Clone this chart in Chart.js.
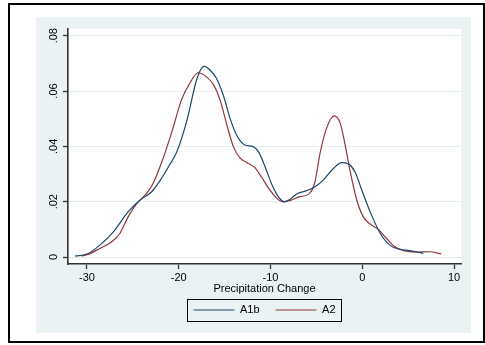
<!DOCTYPE html>
<html>
<head>
<meta charset="utf-8">
<script src="https://cdn.jsdelivr.net/npm/chart.js@4.4.0/dist/chart.umd.min.js"></script>
<style>
html,body{margin:0;padding:0;background:#fff;}
canvas{display:block;}
</style>
</head>
<body>
<canvas id="c" width="485" height="345"></canvas>
<script>
// ---- data ----
const a1bX = [-31.3,-30,-28.6,-27.1,-25.5,-24.2,-22.95,-22.0,-21.1,-20.2,-19.1,-18.0,-17.25,-16.6,-15.9,-15.1,-14.4,-13.7,-12.8,-11.9,-11.3,-10.6,-9.9,-9.15,-8.5,-7.9,-7.15,-6.05,-5.15,-4.25,-3.15,-2.25,-1.5,-0.8,-0.05,0.85,1.95,3.0,4.1,5.2,6.65];
const a1bY = [0.0003,0.0011,0.0043,0.0092,0.0164,0.0206,0.0236,0.0278,0.0327,0.0381,0.0495,0.0646,0.0689,0.0676,0.0646,0.058,0.050,0.0441,0.0405,0.0399,0.038,0.0327,0.0266,0.0218,0.0200,0.0208,0.0228,0.024,0.0254,0.0278,0.032,0.0341,0.0336,0.0308,0.0242,0.0164,0.0086,0.0043,0.0028,0.0023,0.0013];
const a2X = [-30.6,-30,-28.6,-27.3,-26.4,-25.5,-24.6,-23.5,-22.8,-21.9,-20.8,-19.7,-18.8,-17.9,-17.0,-16.2,-15.5,-14.8,-14.05,-13.3,-12.6,-11.7,-11.0,-10.2,-9.3,-8.6,-7.9,-6.8,-5.8,-5.15,-4.6,-3.9,-3.05,-2.4,-1.9,-1.35,-0.6,0.1,0.85,1.75,2.65,3.55,4.5,5.95,7.4,8.6];
const a2Y = [0.0004,0.0008,0.0031,0.0055,0.0086,0.0146,0.0192,0.023,0.0266,0.0339,0.0447,0.0568,0.0628,0.0666,0.0652,0.0622,0.0568,0.0483,0.0399,0.0357,0.0342,0.0323,0.029,0.0248,0.0212,0.0199,0.0204,0.0218,0.0228,0.0272,0.0375,0.0465,0.051,0.0483,0.0411,0.0315,0.0206,0.0146,0.0119,0.01,0.0067,0.0037,0.0023,0.0018,0.0019,0.0011];
const seriesNames = ['A1b','A2'];
const xTicks = [-30,-20,-10,0,10];
const xTickLabels = ['-30','-20','-10','0','10'];
const yTicks = [0,0.02,0.04,0.06,0.08];
const yTickLabels = ['0','.02','.04','.06','.08'];
const xTitle = 'Precipitation Change';

const font = {family:'"Liberation Sans", Arial, sans-serif', size:11};
const toPts = (xs, ys) => xs.map((x,i)=>({x:x, y:ys[i]}));

const frame = {
  id:'frame',
  beforeDraw(chart){
    const {ctx, chartArea:a} = chart;
    ctx.save();
    ctx.fillStyle='#fff'; ctx.fillRect(0,0,chart.width,chart.height);
    ctx.fillStyle='#eaf2f3'; ctx.fillRect(36,17,435,316);
    ctx.fillStyle='#fff'; ctx.fillRect(a.left,a.top,a.right-a.left,a.bottom-a.top);
    ctx.strokeStyle='#000'; ctx.lineWidth=2; ctx.strokeRect(9,4,475,338);
    ctx.restore();
  },
  afterDraw(chart){
    const lg = chart.legend;
    if(!lg || !lg.legendHitBoxes || !lg.legendHitBoxes.length) return;
    const hb = lg.legendHitBoxes;
    let l = Infinity, r = -Infinity, t = Infinity, b = -Infinity;
    hb.forEach(h=>{ l=Math.min(l,h.left); r=Math.max(r,h.left+h.width); t=Math.min(t,h.top); b=Math.max(b,h.top+h.height); });
    const ctx = chart.ctx;
    ctx.save();
    ctx.strokeStyle='#000'; ctx.lineWidth=1;
    ctx.strokeRect(Math.round(l-6)+0.5, Math.round(t-6)+0.5, Math.round(r-l+12), Math.round(b-t+11));
    ctx.restore();
  }
};

new Chart(document.getElementById('c'), {
  type:'line',
  data:{
    datasets:[
      {label:seriesNames[0], data:toPts(a1bX,a1bY), borderColor:'#1a476f', backgroundColor:'#1a476f', borderWidth:1.2, pointRadius:0, fill:false, cubicInterpolationMode:'monotone'},
      {label:seriesNames[1], data:toPts(a2X,a2Y), borderColor:'#90353b', backgroundColor:'#90353b', borderWidth:1.2, pointRadius:0, fill:false, cubicInterpolationMode:'monotone'}
    ]
  },
  options:{
    responsive:false,
    animation:false,
    devicePixelRatio:1,
    layout:{padding:{left:36, right:24, top:29, bottom:19.5}},
    plugins:{
      legend:{
        position:'bottom', fullSize:false,
        labels:{usePointStyle:true, pointStyle:'line', pointStyleWidth:41, padding:16, font:font, color:'#000'}
      },
      tooltip:{enabled:false}
    },
    scales:{
      x:{
        type:'linear', min:-32.07, max:10.76,
        afterBuildTicks:s=>{ s.ticks = xTicks.map(v=>({value:v})); },
        ticks:{callback:(v,i)=>xTickLabels[i], padding:2, font:font, color:'#000', maxRotation:0, autoSkip:false},
        grid:{drawOnChartArea:false, drawTicks:true, tickLength:5, tickColor:'#333', tickWidth:1.3},
        border:{color:'#333', width:1.6},
        title:{display:true, text:xTitle, font:font, color:'#000', padding:{top:0, bottom:-7}},
        afterFit:s=>{ s.height = 24.5; }
      },
      y:{
        type:'linear', min:-0.00253, max:0.08241,
        afterBuildTicks:s=>{ s.ticks = yTicks.map(v=>({value:v})); },
        ticks:{callback:(v,i)=>yTickLabels[i], minRotation:90, maxRotation:90, crossAlign:'center', padding:1, font:font, color:'#000', autoSkip:false},
        grid:{color:'#e4edef', lineWidth:1, drawTicks:true, tickLength:5, tickColor:'#333', tickWidth:1.3},
        border:{color:'#333', width:1.6},
        afterFit:s=>{ s.width = 32; s.paddingTop = 0; s.paddingBottom = 0; }
      }
    }
  },
  plugins:[frame]
});
</script>
</body>
</html>
